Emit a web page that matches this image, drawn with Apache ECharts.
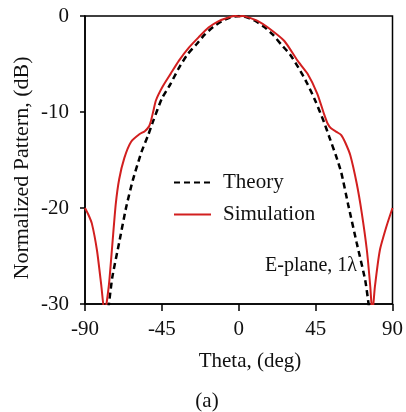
<!DOCTYPE html>
<html>
<head>
<meta charset="utf-8">
<script src="https://cdn.jsdelivr.net/npm/echarts@6/dist/echarts.min.js"></script>
<style>
  html, body { margin: 0; padding: 0; background: #fff; }
  #chart { width: 406px; height: 412px; }
</style>
</head>
<body>
<div id="chart"></div>
<script>
// values
const thetaTicks = [-90, -45, 0, 45, 90];
const dbTicks = [0, -10, -20, -30];

const theoryTheta = [-77, -76, -74, -70, -66, -62, -57, -53, -50, -45, -40, -35, -30, -25, -20, -15, -10, -5, 0,
    5, 10, 15, 20, 25, 30, 35, 40, 45, 50, 53, 57, 60, 64, 69, 74, 76, 77];
const theoryDb = [-31.5, -30, -27.2, -23.6, -20, -17.1, -14.2, -12.4, -10.9, -8.6, -7.1, -5.4, -4.0, -3.0, -1.95, -1.15, -0.55, -0.15, 0,
    -0.15, -0.55, -1.15, -1.95, -3.0, -4.0, -5.4, -7.0, -8.9, -11.1, -12.6, -14.6, -16.3, -19.6, -23.6, -27.5, -30, -31.5];

const simTheta = [-90, -88, -86, -83, -80.5, -78.5, -76, -74, -72, -70, -67, -63, -58, -55, -52.5, -51.5, -50, -48.5, -44.7, -39.8, -35, -29.2, -23.4, -17.7, -12, -6, -2, 0,
    2, 5.5, 11, 17.1, 26.7, 34.4, 40.2, 46, 49.9, 52, 54, 57.5, 60, 62.4, 65.3, 69, 72, 75, 77, 78.2, 79.7, 82.6, 86.5, 90];
const simDb = [-20, -20.7, -21.6, -24.4, -28, -31, -28, -23.8, -19.6, -17, -14.8, -13.1, -12.3, -12.0, -11.5, -11.0, -9.9, -8.8, -7.4, -6.0, -4.65, -3.3, -2.2, -1.2, -0.55, -0.15, 0, -0.05,
    0, -0.14, -0.5, -1.2, -2.6, -4.65, -6.0, -8.1, -10.2, -11.2, -11.7, -12.1, -12.4, -13.2, -14.5, -17.4, -20.5, -24.4, -28.2, -31, -28.2, -24.4, -21.9, -20];

const serif = "Liberation Serif";

const chart = echarts.init(document.getElementById("chart"));

chart.setOption({
    animation: false,
    backgroundColor: "#fff",
    grid: {
        left: 85, right: 10, top: 16, bottom: 108,
        show: true, borderColor: "#000", borderWidth: 1.5
    },
    legend: {
        orient: "vertical",
        left: 168,
        top: 167,
        itemWidth: 37,
        itemHeight: 14,
        itemGap: 11,
        itemStyle: { color: "transparent", borderColor: "transparent", borderWidth: 0 },
        textStyle: { fontFamily: serif, fontSize: 21, color: "#111", lineHeight: 21, padding: [0, 0, 0, 7] },
        data: ["Theory", "Simulation"]
    },
    xAxis: {
        type: "value",
        min: -90, max: 90, interval: 45,
        axisLine: { onZero: false, lineStyle: { color: "#000", width: 1.5 } },
        axisTick: { show: true, inside: false, length: 7, lineStyle: { color: "#000", width: 1.5 } },
        axisLabel: {
            margin: 15, fontFamily: serif, fontSize: 21, color: "#111",
            formatter: (v) => thetaTicks.includes(v) ? String(v) : ""
        },
        splitLine: { show: false }
    },
    yAxis: {
        type: "value",
        min: -30, max: 0, interval: 10,
        axisLine: { show: true, onZero: false, lineStyle: { color: "#000", width: 1.5 } },
        axisTick: { show: true, inside: false, length: 5, lineStyle: { color: "#000", width: 1.5 } },
        axisLabel: {
            margin: 16, fontFamily: serif, fontSize: 21, color: "#111",
            formatter: (v) => dbTicks.includes(v) ? String(v) : ""
        },
        splitLine: { show: false }
    },
    series: [
        {
            name: "Theory",
            type: "line",
            showSymbol: false,
            symbol: "none",
            smooth: 0.2,
            clip: true,
            lineStyle: { color: "#000", width: 2.5, type: [6, 4] },
            itemStyle: { color: "#000" },
            data: theoryTheta.map((t, i) => [t, theoryDb[i]])
        },
        {
            name: "Simulation",
            type: "line",
            showSymbol: false,
            symbol: "none",
            smooth: 0.2,
            clip: true,
            lineStyle: { color: "#d21f1f", width: 2 },
            itemStyle: { color: "#d21f1f" },
            data: simTheta.map((t, i) => [t, simDb[i]])
        }
    ],
    graphic: [
        {
            type: "text", x: 22, y: 168, rotation: Math.PI / 2,
            style: { text: "Normalized Pattern, (dB)", fontFamily: serif, fontSize: 22, fill: "#111", align: "center", verticalAlign: "middle" }
        },
        {
            type: "text", x: 250, y: 361,
            style: { text: "Theta, (deg)", fontFamily: serif, fontSize: 21, fill: "#111", align: "center", verticalAlign: "middle" }
        },
        {
            type: "text", x: 207, y: 401,
            style: { text: "(a)", fontFamily: serif, fontSize: 21, fill: "#111", align: "center", verticalAlign: "middle" }
        },
        {
            type: "text", x: 357, y: 266,
            style: { text: "E-plane, 1λ", fontFamily: serif, fontSize: 20, fill: "#111", align: "right", verticalAlign: "middle" }
        }
    ]
});
</script>
</body>
</html>
